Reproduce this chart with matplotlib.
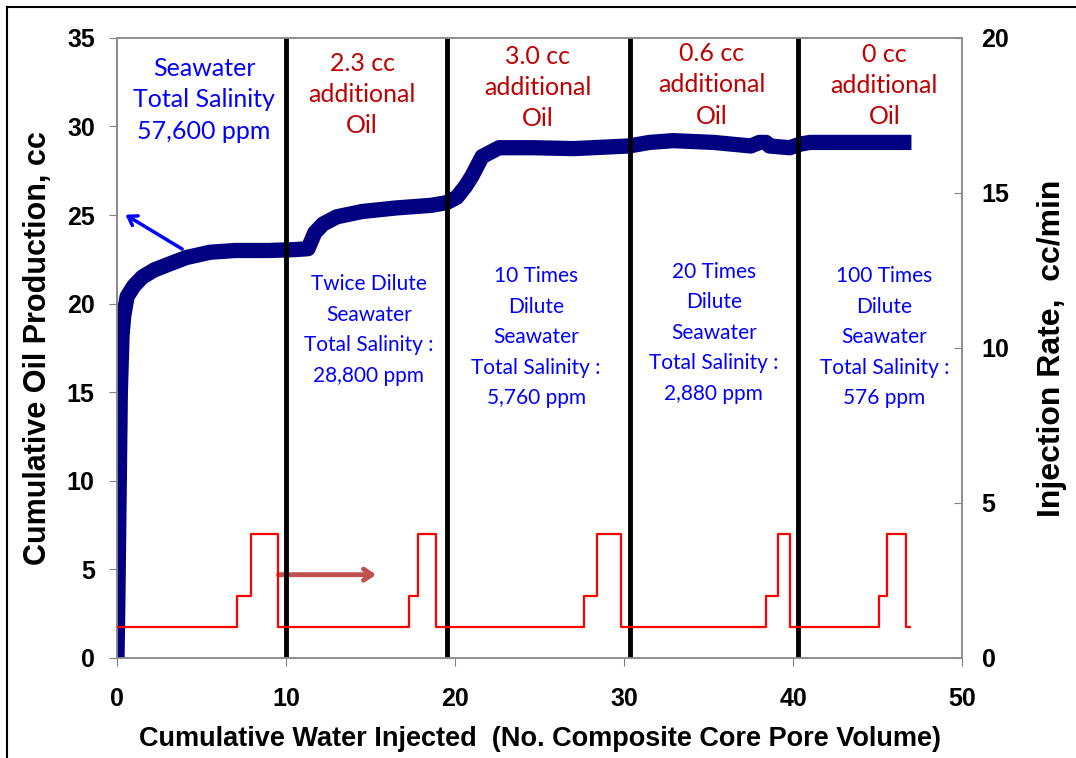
import numpy as np
import matplotlib
matplotlib.use("Agg")
import matplotlib.pyplot as plt
from matplotlib.lines import Line2D
from matplotlib.font_manager import FontProperties

# cumulative oil production (cc) vs pore volumes injected
oil_x = [0.0, 0.05, 0.1, 0.15, 0.2, 0.3, 0.4, 0.6, 1.0, 1.5, 2.2, 3.0, 4.1, 5.5, 7.0,
         9.0, 10.5, 11.3, 11.7, 12.2, 13.0, 14.5, 16.5, 18.6, 19.5, 20.1, 20.6, 21.0,
         21.6, 22.6, 24.7, 27.0, 30.3, 31.5, 32.9, 35.3, 37.5, 38.0, 38.4, 38.6, 39.8,
         40.4, 41.0, 44.0, 47.0]
oil_y = [0.0, 3.0, 7.0, 11.0, 15.0, 18.2, 19.3, 20.4, 21.0, 21.5, 21.9, 22.2, 22.6, 22.9, 23.0,
         23.0, 23.05, 23.1, 24.0, 24.5, 24.9, 25.2, 25.4, 25.55, 25.7, 26.0, 26.6, 27.2,
         28.3, 28.8, 28.8, 28.75, 28.9, 29.1, 29.2, 29.1, 28.9, 29.1, 29.1, 28.9, 28.8,
         29.0, 29.1, 29.1, 29.1]

# injection rate (cc/min), step changes
rate_x = [0, 7.1, 7.9, 9.55, 17.25, 17.8, 18.9, 27.6, 28.4, 29.8, 38.4, 39.1, 39.8,
          45.1, 45.55, 46.65, 46.9]
rate_y = [1, 2, 4, 1, 2, 4, 1, 2, 4, 1, 2, 4, 1, 2, 4, 1, 1]

# brine switch points
switch_x = [10.0, 19.5, 30.35, 40.3]

oil_labels = ["2.3 cc\nadditional\nOil", "3.0 cc\nadditional\nOil",
              "0.6 cc\nadditional\nOil", "0 cc\nadditional\nOil"]
oil_label_x = [14.5, 24.9, 35.2, 45.4]
oil_label_y = [31.8, 32.2, 32.35, 32.3]

brine_labels = ["Twice Dilute\nSeawater\nTotal Salinity :\n28,800 ppm",
                "10 Times\nDilute\nSeawater\nTotal Salinity :\n5,760 ppm",
                "20 Times\nDilute\nSeawater\nTotal Salinity :\n2,880 ppm",
                "100 Times\nDilute\nSeawater\nTotal Salinity :\n576 ppm"]
brine_label_x = [14.9, 24.8, 35.3, 45.4]
brine_label_y = [18.5, 18.1, 18.35, 18.1]

fig = plt.figure(figsize=(10.76, 7.58), dpi=100)
ax = fig.add_axes([0.1087, 0.132, 0.7855, 0.818])
ax2 = ax.twinx()

ax.plot(oil_x, oil_y, color="#000080", lw=11, solid_capstyle="butt", zorder=3)
for xv in switch_x:
    ax.axvline(xv, color="black", lw=3.5, zorder=4)
ax2.step(rate_x, rate_y, where="post", color="red", lw=1.6, zorder=3)

ax.set_xlim(0, 50)
ax.set_ylim(0, 35)
ax2.set_ylim(0, 20)
ax.set_xticks(np.arange(0, 51, 10))
ax.set_yticks(np.arange(0, 36, 5))
ax2.set_yticks(np.arange(0, 21, 5))

tick_fp = FontProperties(family="Liberation Sans", weight="bold", size=18)
for lab in ax.get_xticklabels() + ax.get_yticklabels() + ax2.get_yticklabels():
    lab.set_fontproperties(tick_fp)
ax.tick_params(axis="y", direction="out", length=6, color="#808080", pad=10)
ax.tick_params(axis="x", direction="out", length=6, color="#808080", pad=15)
ax2.tick_params(axis="y", direction="in", length=6, color="#808080", pad=14)

for a in (ax, ax2):
    for s in a.spines.values():
        s.set_color("#909090")
        s.set_linewidth(1.3)
ax.spines["left"].set_color("#606060")

ax.set_xlabel("Cumulative Water Injected  (No. Composite Core Pore Volume)",
              family="Liberation Sans", weight="bold", size=19.5, labelpad=11)
ax.set_ylabel("Cumulative Oil Production, cc", family="Liberation Sans",
              weight="bold", size=22, labelpad=10)
ax2.set_ylabel("Injection Rate,  cc/min", family="Liberation Sans",
               weight="bold", size=23, labelpad=20)

ax.text(5.15, 31.5, "Seawater\nTotal Salinity\n57,600 ppm", color="#0000FF",
        family="Lato", size=18, ha="center", va="center", linespacing=1.43)
for t, xv, yv in zip(oil_labels, oil_label_x, oil_label_y):
    ax.text(xv, yv, t, color="#C00000", family="Lato", size=18,
            ha="center", va="center", linespacing=1.43)
for t, xv, yv in zip(brine_labels, brine_label_x, brine_label_y):
    ax.text(xv, yv, t, color="#0000FF", family="Lato", size=15,
            ha="center", va="center", linespacing=1.66)

ax.annotate("", xy=(0.36, 25.1), xytext=(4.0, 23.0),
            arrowprops=dict(arrowstyle="->,head_length=0.6,head_width=0.4",
                            color="#0000FF", lw=2.5))
ax.annotate("", xy=(15.5, 4.7), xytext=(9.4, 4.7),
            arrowprops=dict(arrowstyle="->,head_length=0.6,head_width=0.4",
                            color="#C0504D", lw=3.5))

# frame of the original figure (left and top edges)
fig.add_artist(Line2D([0.0065, 0.0065], [0.0, 0.9908], transform=fig.transFigure,
                      color="black", lw=1.5))
fig.add_artist(Line2D([0.0065, 1.0], [0.9908, 0.9908], transform=fig.transFigure,
                      color="black", lw=1.5))

fig.savefig("out.png", dpi=100)
